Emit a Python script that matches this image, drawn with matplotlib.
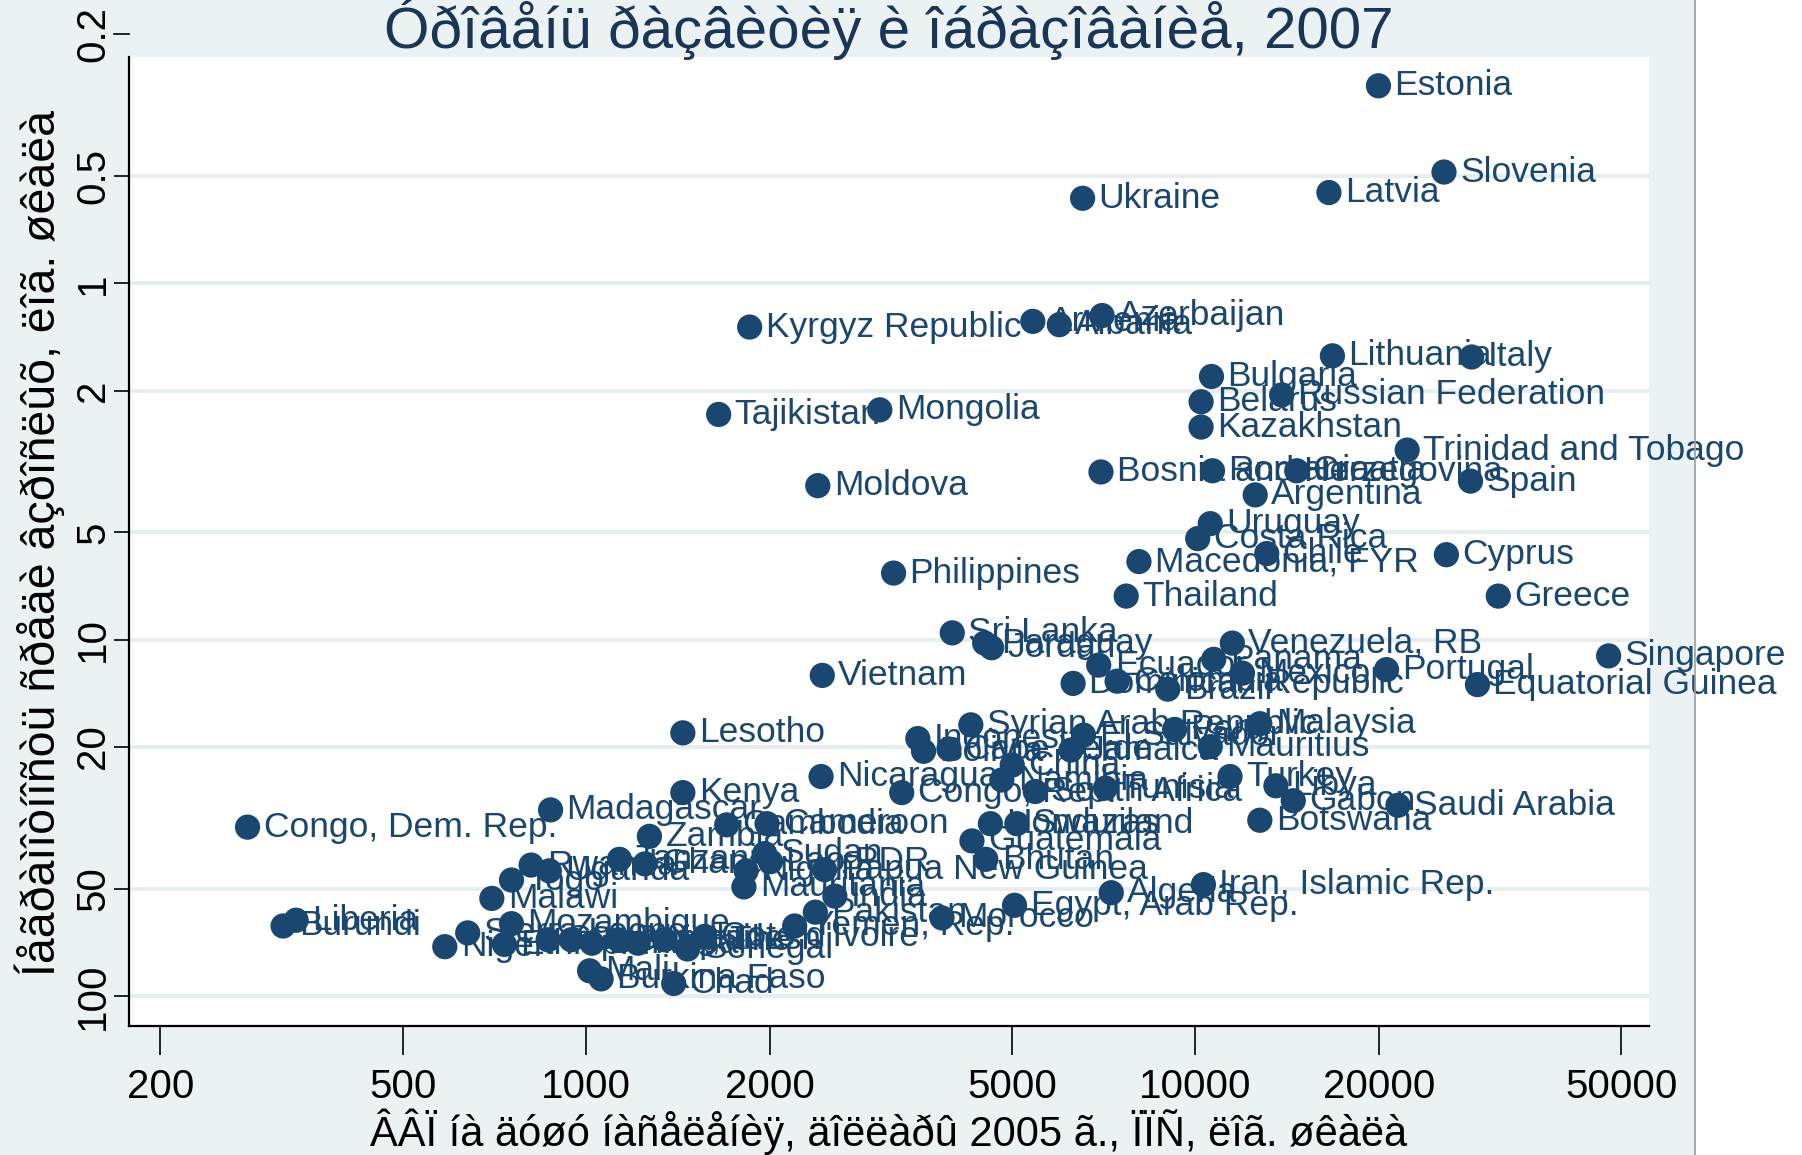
import matplotlib
matplotlib.use("Agg")
import matplotlib.pyplot as plt
from matplotlib.patches import Rectangle
from matplotlib.lines import Line2D

plt.rcParams['font.family'] = ['Liberation Sans', 'DejaVu Sans']

# ---------------- data ----------------
countries = [
    "Estonia", "Slovenia", "Latvia", "Ukraine", "Kyrgyz Republic", "Armenia", "Albania", "Azerbaijan",
    "Lithuania", "Italy", "Bulgaria", "Russian Federation", "Belarus", "Kazakhstan", "Tajikistan",
    "Mongolia", "Trinidad and Tobago", "Moldova", "Bosnia and Herzegovina", "Romania", "Croatia",
    "Spain", "Argentina", "Uruguay", "Costa Rica", "Chile", "Macedonia, FYR", "Cyprus", "Philippines",
    "Thailand", "Greece", "Sri Lanka", "Paraguay", "Jordan", "Venezuela, RB", "Panama", "Ecuador",
    "Colombia", "Mexico", "Dominican Republic", "Brazil", "Portugal", "Equatorial Guinea", "Singapore",
    "Vietnam", "Lesotho", "Syrian Arab Republic", "Indonesia", "Bolivia", "Cape Verde", "El Salvador",
    "Jamaica", "Peru", "Malaysia", "Mauritius", "China", "Namibia", "South Africa", "Tunisia",
    "Nicaragua", "Congo, Rep.", "Turkey", "Libya", "Gabon", "Saudi Arabia", "Botswana", "Kenya",
    "Madagascar", "Congo, Dem. Rep.", "Zambia", "Cambodia", "Cameroon", "Swaziland", "Honduras",
    "Guatemala", "Bhutan", "Papua New Guinea", "Sudan", "Lao PDR", "Nigeria", "Mauritania", "India",
    "Pakistan", "Yemen, Rep.", "Cote d'Ivoire", "Senegal", "Morocco", "Egypt, Arab Rep.", "Algeria",
    "Iran, Islamic Rep.", "Rwanda", "Uganda", "Tanzania", "Ghana", "Togo", "Malawi", "Mozambique",
    "Sierra Leone", "Niger", "Ethiopia", "Guinea", "Gambia, The", "Benin", "Bangladesh", "Nepal",
    "Haiti", "Mali", "Burkina Faso", "Chad", "Liberia", "Burundi",
]

gdp_pc = [
    19980, 25600, 16570, 6530, 1855, 5410, 5980, 7030,
    16790, 28420, 10630, 13860, 10220, 10220, 1650,
    3034, 22270, 2400, 7000, 10670, 14670,
    28300, 12540, 10580, 10090, 13100, 8080, 25830, 3196,
    7700, 31430, 3990, 4510, 4630, 11500, 10720, 6940,
    7440, 11950, 6300, 9010, 20600, 29050, 47700,
    2441, 1441, 4280, 3503, 3580, 3940, 6554,
    6248, 9247, 12760, 10580, 5005, 4812, 5460, 7121,
    2430, 3296, 11400, 13560, 14480, 21510, 12760, 1441,
    874, 278, 1270, 1701, 1981, 5093, 4608,
    4298, 4529, 2462, 1963, 2007, 1831, 1815, 2560,
    2378, 2199, 1565, 1467, 3838, 5049, 7278,
    10310, 812, 870, 1134, 1249, 754, 700, 754,
    639, 586, 734, 866, 945, 1022, 1129, 1216,
    1344, 1013, 1058, 1392, 334, 318,
]

illiteracy = [
    0.279, 0.487, 0.556, 0.577, 1.326, 1.278, 1.306, 1.231,
    1.597, 1.609, 1.825, 2.056, 2.149, 2.530, 2.332,
    2.264, 2.936, 3.695, 3.382, 3.356, 3.356,
    3.588, 3.922, 4.723, 5.201, 5.730, 6.034, 5.772, 6.500,
    7.542, 7.542, 9.564, 10.22, 10.53, 10.22, 11.35, 11.78,
    13.07, 12.41, 13.26, 13.76, 12.13, 13.36, 11.10,
    12.59, 18.25, 17.33, 18.94, 20.56, 20.26, 18.52,
    20.40, 17.85, 17.20, 19.95, 22.47, 24.75, 26.66, 26.07,
    24.20, 26.85, 24.20, 25.69, 28.29, 29.14, 32.10, 26.85,
    30.02, 33.56, 35.62, 33.07, 32.82, 32.82, 32.82,
    36.68, 41.32, 44.18, 39.81, 41.94, 44.50, 49.38, 52.41,
    58.14, 63.56, 67.97, 73.75, 60.33, 55.61, 51.27,
    48.66, 42.88, 44.50, 41.32, 42.56, 47.23, 53.19, 62.62,
    66.47, 72.66, 71.58, 69.49, 69.49, 71.05, 69.49, 71.05,
    69.49, 84.92, 89.45, 92.15, 61.24, 63.56,
]

x_ticks = [200, 500, 1000, 2000, 5000, 10000, 20000, 50000]
x_tick_labels = ["200", "500", "1000", "2000", "5000", "10000", "20000", "50000"]
y_ticks = [0.5, 1, 2, 5, 10, 20, 50, 100]
y_tick_labels = ["0.5", "1", "2", "5", "10", "20", "50", "100"]
y_top_tick = 0.2
y_top_tick_label = "0.2"

title = "Óðîâåíü ðàçâèòèÿ è îáðàçîâàíèå, 2007"
x_title = "ÂÂÏ íà äóøó íàñåëåíèÿ, äîëëàðû 2005 ã., ÏÏÑ, ëîã. øêàëà"
y_title = "Íåãðàìîòíîñòü ñðåäè âçðîñëûõ, ëîã. øêàëà"

# ---------------- style ----------------
W, H = 1802, 1155
NAVY = "#1A476F"
BG = "#EAF2F3"
GRID = "#E6EEF0"

fig = plt.figure(figsize=(W / 100, H / 100), dpi=100, facecolor="white")
fig.patches.append(Rectangle((0, 0), 1695 / W, 1, transform=fig.transFigure,
                             facecolor=BG, edgecolor="none", zorder=-10))
fig.lines.append(Line2D([1695 / W, 1695 / W], [0, 1], transform=fig.transFigure,
                        color="#9E9E9E", lw=1.2))

L, R, T, B = 129, 1649, 57, 1026
ax = fig.add_axes([L / W, 1 - B / H, (R - L) / W, (B - T) / H])
ax.set_facecolor("white")
ax.set_xscale("log")
ax.set_yscale("log")
ax.set_xlim(177.6, 55560)
ax.set_ylim(121.3, 0.2316)

ax.set_xticks(x_ticks)
ax.set_xticklabels(x_tick_labels)
ax.set_yticks(y_ticks)
ax.set_yticklabels(y_tick_labels)
ax.minorticks_off()

for s in ["top", "right"]:
    ax.spines[s].set_visible(False)
for s in ["left", "bottom"]:
    ax.spines[s].set_linewidth(1.6)
    ax.spines[s].set_color("black")

ax.tick_params(axis="x", length=21, width=1.2, pad=9, labelsize=29, colors="black")
ax.tick_params(axis="y", length=11, width=1.2, pad=1, labelsize=29, colors="black",
               labelrotation=90)
for lab in ax.get_yticklabels():
    lab.set_va("center")

ax.yaxis.grid(True, color=GRID, lw=2.8)
ax.xaxis.grid(False)
ax.set_axisbelow(True)

# extra 0.2 tick sitting above the plot region
ytr = ax.get_yaxis_transform()
ax.add_line(Line2D([-11 / 72 * 100 / (R - L), 0], [y_top_tick, y_top_tick], transform=ytr,
                   color="black", lw=1.2, clip_on=False))
ax.annotate(y_top_tick_label, xy=(0, y_top_tick), xycoords=ytr, xytext=(-12, 0),
            textcoords="offset points", rotation=90, ha="right", va="center",
            fontsize=29, color="black", annotation_clip=False)

ax.scatter(gdp_pc, illiteracy, s=330, color=NAVY, edgecolors="none", zorder=3, clip_on=False)
for name, x, y in zip(countries, gdp_pc, illiteracy):
    ax.annotate(name, xy=(x, y), xytext=(11.5, 0), textcoords="offset points",
                ha="left", va="center", fontsize=25.5, color=NAVY, zorder=4,
                annotation_clip=False)

ax.set_xlabel(x_title, fontsize=30, color="black")
ax.xaxis.set_label_coords(0.5, -0.1094)
ax.xaxis.label.set_va("center")
ax.set_ylabel(y_title, fontsize=33.5, color="black")
ax.yaxis.set_label_coords(-0.0586, 0.4985)
ax.yaxis.label.set_va("center")

fig.text((L + R) / 2 / W, 1 - 29 / H, title, ha="center", va="center",
         fontsize=42, color="#1B3556")

fig.savefig("out.png", dpi=100, facecolor=fig.get_facecolor())
